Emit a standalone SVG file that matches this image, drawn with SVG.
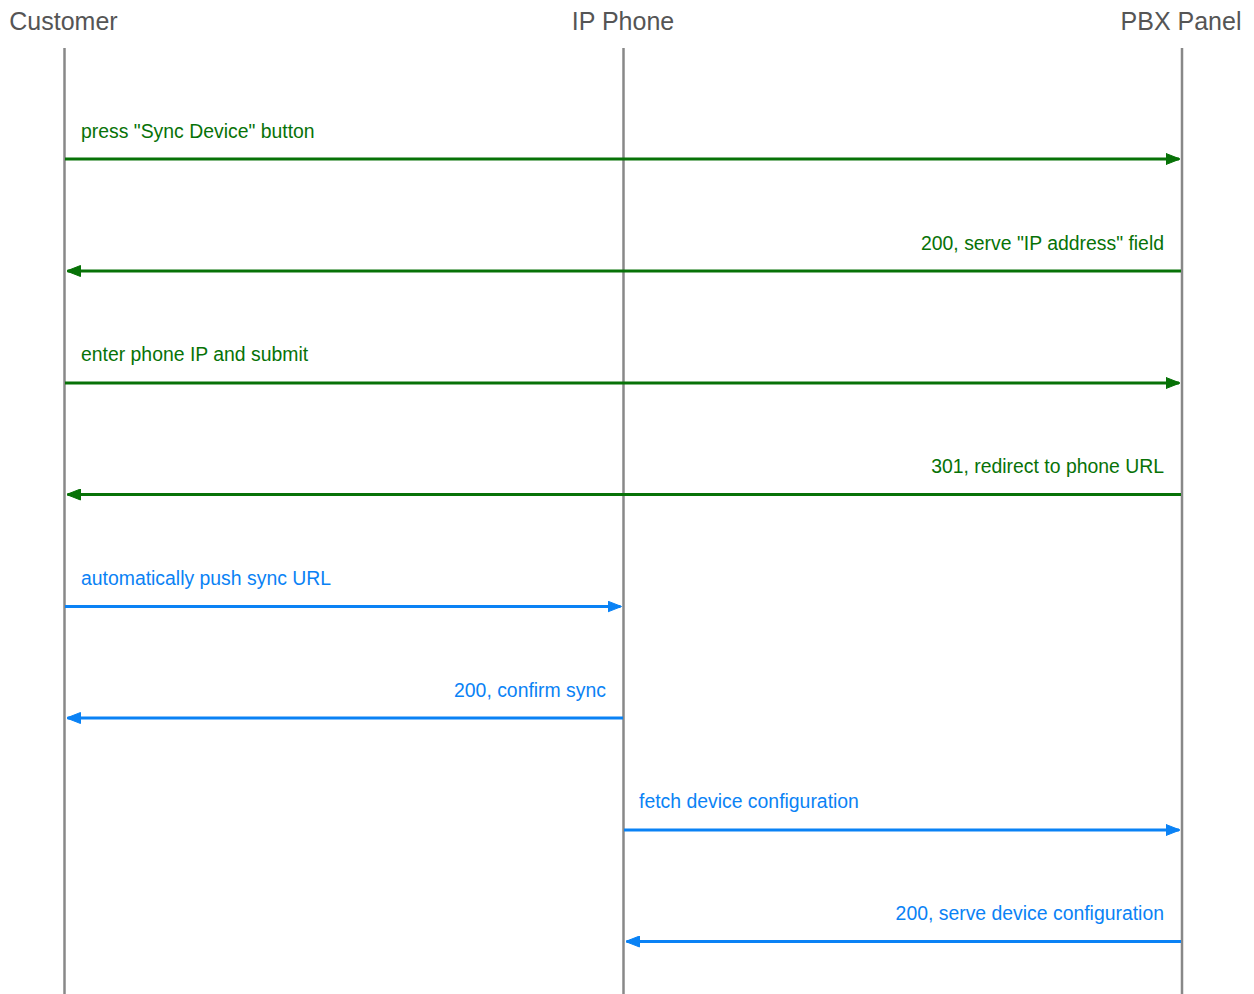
<svg xmlns="http://www.w3.org/2000/svg" width="1254" height="994" viewBox="0 0 1254 994">
<style>
.title{font-family:"Liberation Sans",Arial,sans-serif;font-size:25px;fill:#555;text-anchor:middle}
.life{stroke:#888;stroke-width:2.5;fill:none}
.lbl{font-family:"Liberation Sans",Arial,sans-serif;font-size:19.4px}
.g{fill:#077207}
.b{fill:#0a82f5}
.ag{stroke:#077207;stroke-width:3;fill:none}
.ab{stroke:#0a82f5;stroke-width:3;fill:none}
.end{text-anchor:end}
</style>
<defs>
<marker id="mg" markerWidth="14" markerHeight="12" refX="13" refY="6" orient="auto" markerUnits="userSpaceOnUse"><path d="M0,0.5 L14,6 L0,11.5 Z" fill="#077207" stroke="#077207" stroke-width="1" stroke-linejoin="round"/></marker>
<marker id="mb" markerWidth="14" markerHeight="12" refX="13" refY="6" orient="auto" markerUnits="userSpaceOnUse"><path d="M0,0.5 L14,6 L0,11.5 Z" fill="#0a82f5" stroke="#0a82f5" stroke-width="1" stroke-linejoin="round"/></marker>
</defs>
<rect width="1254" height="994" fill="#fff"/>
<g id="customer"><text class="title" x="63.5" y="30">Customer</text><line class="life" x1="64.5" y1="48" x2="64.5" y2="994"/></g>
<g id="ipphone"><text class="title" x="623" y="30">IP Phone</text><line class="life" x1="623.5" y1="48" x2="623.5" y2="994"/></g>
<g id="pbx"><text class="title" x="1181" y="30">PBX Panel</text><line class="life" x1="1182" y1="48" x2="1182" y2="994"/></g>
<g id="connectors">
<line class="ag" x1="65" y1="159" x2="1179" y2="159" marker-end="url(#mg)"/>
<text class="lbl g" x="81" y="138">press "Sync Device" button</text>
<line class="ag" x1="1181" y1="271" x2="67.5" y2="271" marker-end="url(#mg)"/>
<text class="lbl g end" x="1164" y="250">200, serve "IP address" field</text>
<line class="ag" x1="65" y1="383" x2="1179" y2="383" marker-end="url(#mg)"/>
<text class="lbl g" x="81" y="361">enter phone IP and submit</text>
<line class="ag" x1="1181" y1="494.5" x2="67.5" y2="494.5" marker-end="url(#mg)"/>
<text class="lbl g end" x="1164" y="473">301, redirect to phone URL</text>
<line class="ab" x1="65" y1="606.5" x2="620.5" y2="606.5" marker-end="url(#mb)"/>
<text class="lbl b" x="81" y="585">automatically push sync URL</text>
<line class="ab" x1="623" y1="718" x2="67.5" y2="718" marker-end="url(#mb)"/>
<text class="lbl b end" x="606" y="697">200, confirm sync</text>
<line class="ab" x1="624" y1="830" x2="1179" y2="830" marker-end="url(#mb)"/>
<text class="lbl b" x="639" y="808">fetch device configuration</text>
<line class="ab" x1="1181" y1="941.5" x2="626.5" y2="941.5" marker-end="url(#mb)"/>
<text class="lbl b end" x="1164" y="920">200, serve device configuration</text>
</g>
</svg>
